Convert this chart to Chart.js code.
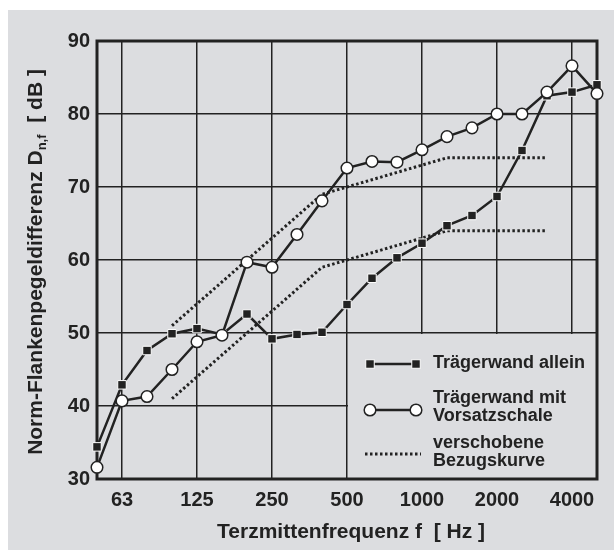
<!DOCTYPE html>
<html>
<head>
<meta charset="utf-8">
<script src="https://cdn.jsdelivr.net/npm/chart.js@4.4.0/dist/chart.umd.min.js"></script>
<style>
  body { margin: 0; background: #fff; }
  #panel { position: absolute; left: 8px; top: 10px; width: 606px; height: 540px; background: #dcdde0; }
</style>
</head>
<body>
<div id="panel"><canvas id="flanke" width="606" height="540"></canvas></div>
<script>
// Terzmittenfrequenzen 50 ... 5000 Hz
const frequencies = ["50", "63", "80", "100", "125", "160", "200", "250", "315", "400", "500",
  "630", "800", "1000", "1250", "1600", "2000", "2500", "3150", "4000", "5000"];
const tickLabels = ["63", "125", "250", "500", "1000", "2000", "4000"];

const traegerwandAllein = [34.4, 42.9, 47.6, 49.9, 50.6, 49.8, 52.6, 49.2, 49.8, 50.1, 53.9,
  57.5, 60.3, 62.3, 64.7, 66.1, 68.7, 75.0, 82.5, 83.0, 84.0];
const mitVorsatzschale = [31.6, 40.7, 41.3, 45.0, 48.8, 49.7, 59.7, 59.0, 63.5, 68.1, 72.6,
  73.5, 73.4, 75.1, 76.9, 78.1, 80.0, 80.0, 83.0, 86.6, 82.8];
// verschobene Bezugskurven (100 - 3150 Hz)
const bezugOben = [null, null, null, 51, 54, 57, 60, 63, 66, 69, 70,
  71, 72, 73, 74, 74, 74, 74, 74, null, null];
const bezugUnten = [null, null, null, 41, 44, 47, 50, 53, 56, 59, 60,
  61, 62, 63, 64, 64, 64, 64, 64, null, null];

const ink = "#222";
const grey = "#dcdde0";
const fontFamily = "'Liberation Sans', Arial, sans-serif";

// Rahmen + Legendenfeld (verdeckt das Gitter unten rechts)
const rahmen = {
  id: "rahmen",
  beforeDatasetsDraw(chart) {
    const { ctx, chartArea: a, scales } = chart;
    const bx = scales.x.getPixelForValue(frequencies.indexOf("500"));
    const by = scales.y.getPixelForValue(50);
    ctx.save();
    ctx.fillStyle = grey;
    ctx.fillRect(bx + 1, by + 1, a.right - bx - 1, a.bottom - by - 1);
    ctx.strokeStyle = ink;
    ctx.lineWidth = 3;
    ctx.strokeRect(a.left, a.top, a.width, a.height);
    ctx.restore();
  },
  afterDatasetsDraw(chart) {
    const { ctx, scales } = chart;
    const bx = scales.x.getPixelForValue(frequencies.indexOf("500"));
    const by = scales.y.getPixelForValue(50);
    const x0 = bx + 23, x1 = bx + 69, tx = bx + 86;
    ctx.save();
    ctx.strokeStyle = ink;
    ctx.fillStyle = ink;
    ctx.lineWidth = 2.5;

    // Trägerwand allein
    let ly = by + 31;
    ctx.beginPath(); ctx.moveTo(x0, ly); ctx.lineTo(x1, ly); ctx.stroke();
    [x0, x1].forEach(px => {
      ctx.fillStyle = ink;
      ctx.fillRect(px - 4.25, ly - 4.25, 8.5, 8.5);
      ctx.strokeStyle = "#fff"; ctx.lineWidth = 1;
      ctx.strokeRect(px - 4.25, ly - 4.25, 8.5, 8.5);
    });

    // mit Vorsatzschale
    ly = by + 77;
    ctx.strokeStyle = ink; ctx.lineWidth = 2.5;
    ctx.beginPath(); ctx.moveTo(x0, ly); ctx.lineTo(x1, ly); ctx.stroke();
    [x0, x1].forEach(px => {
      ctx.beginPath(); ctx.arc(px, ly, 5.8, 0, Math.PI * 2);
      ctx.fillStyle = "#fff"; ctx.fill();
      ctx.lineWidth = 1.5; ctx.strokeStyle = ink; ctx.stroke();
    });

    // Bezugskurve
    ly = by + 121;
    ctx.lineWidth = 3;
    ctx.setLineDash([2.5, 2.5]);
    ctx.beginPath(); ctx.moveTo(x0 - 5, ly); ctx.lineTo(x1 + 5, ly); ctx.stroke();
    ctx.setLineDash([]);

    ctx.fillStyle = ink;
    ctx.font = "bold 18px " + fontFamily;
    ctx.textBaseline = "middle";
    ctx.textAlign = "left";
    ctx.fillText("Trägerwand allein", tx, by + 30);
    ctx.fillText("Trägerwand mit", tx, by + 65);
    ctx.fillText("Vorsatzschale", tx, by + 83);
    ctx.fillText("verschobene", tx, by + 110);
    ctx.fillText("Bezugskurve", tx, by + 128);
    ctx.restore();
  },
  afterDraw(chart) {
    const { ctx, chartArea: a } = chart;
    ctx.save();
    ctx.fillStyle = ink;
    ctx.textBaseline = "middle";
    ctx.textAlign = "center";
    ctx.font = "bold 21px " + fontFamily;
    ctx.fillText("Terzmittenfrequenz f  [ Hz ]", (a.left + a.right) / 2 + 4, a.bottom + 53);

    // y-Titel mit Index n,f
    const main = "Norm-Flankenpegeldifferenz D";
    const sub = "n,f";
    const tail = "  [ dB ]";
    const wMain = ctx.measureText(main).width;
    const wTail = ctx.measureText(tail).width;
    ctx.font = "bold 13px " + fontFamily;
    const wSub = ctx.measureText(sub).width;
    const total = wMain + wSub + wTail;
    ctx.translate(28, (a.top + a.bottom) / 2 + 2);
    ctx.rotate(-Math.PI / 2);
    ctx.textAlign = "left";
    let px = -total / 2;
    ctx.font = "bold 21px " + fontFamily;
    ctx.fillText(main, px, 0);
    px += wMain;
    ctx.font = "bold 13px " + fontFamily;
    ctx.fillText(sub, px, 6);
    px += wSub;
    ctx.font = "bold 21px " + fontFamily;
    ctx.fillText(tail, px, 0);
    ctx.restore();
  }
};

const ctx = document.getElementById("flanke");

new Chart(ctx, {
  type: "line",
  data: {
    labels: frequencies,
    datasets: [
      {
        label: "Trägerwand mit Vorsatzschale",
        data: mitVorsatzschale,
        order: 0,
        borderColor: ink,
        borderWidth: 2.5,
        pointStyle: "circle",
        pointRadius: 5.8,
        pointBackgroundColor: "#fff",
        pointBorderColor: ink,
        pointBorderWidth: 1.5,
        clip: false,
      },
      {
        label: "Trägerwand allein",
        data: traegerwandAllein,
        order: 1,
        borderColor: ink,
        borderWidth: 2.5,
        pointStyle: "rect",
        pointRadius: 6,
        pointBackgroundColor: ink,
        pointBorderColor: "#fff",
        pointBorderWidth: 1,
        clip: false,
      },
      {
        label: "verschobene Bezugskurve",
        data: bezugOben,
        order: 2,
        borderColor: ink,
        borderWidth: 3,
        borderDash: [2.5, 2.5],
        pointRadius: 0,
      },
      {
        label: "verschobene Bezugskurve",
        data: bezugUnten,
        order: 3,
        borderColor: ink,
        borderWidth: 3,
        borderDash: [2.5, 2.5],
        pointRadius: 0,
      },
    ],
  },
  options: {
    responsive: false,
    animation: false,
    layout: { padding: { top: 31, right: 17, left: 0, bottom: 0 } },
    plugins: {
      legend: { display: false },
      tooltip: { enabled: false },
    },
    scales: {
      x: {
        type: "category",
        offset: false,
        border: { display: false },
        grid: {
          color: c => tickLabels.includes(frequencies[c.index]) ? ink : "rgba(0,0,0,0)",
          lineWidth: 1.5,
          drawTicks: false,
        },
        ticks: {
          autoSkip: false,
          maxRotation: 0,
          padding: 9,
          color: ink,
          font: { family: fontFamily, size: 20, weight: "bold" },
          callback: (v, i) => tickLabels.includes(frequencies[i]) ? frequencies[i] : "",
        },
        afterFit: s => { s.height = 71; },
      },
      y: {
        min: 30,
        max: 90,
        border: { display: false },
        grid: { color: ink, lineWidth: 1.5, drawTicks: false },
        ticks: {
          stepSize: 10,
          padding: 7,
          color: ink,
          font: { family: fontFamily, size: 20, weight: "bold" },
        },
        afterFit: s => { s.width = 89; },
      },
    },
  },
  plugins: [rahmen],
});
</script>
</body>
</html>
